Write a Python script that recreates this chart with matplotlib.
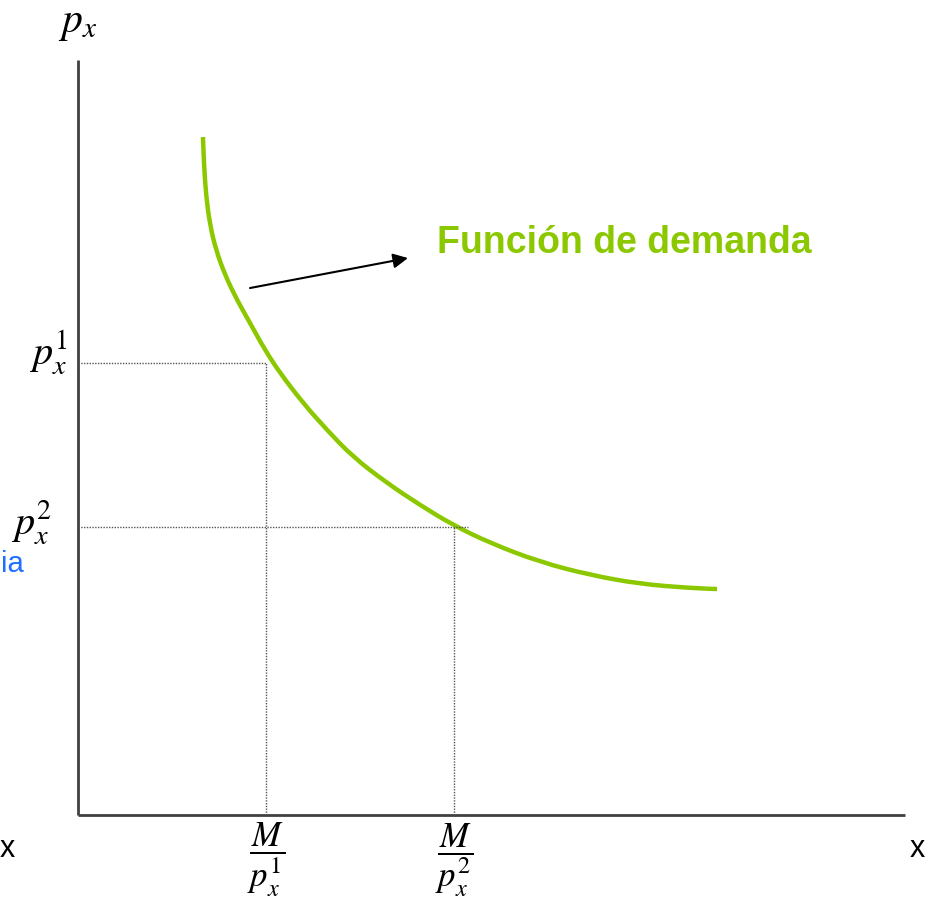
import matplotlib.pyplot as plt
from matplotlib.path import Path
from matplotlib.patches import PathPatch

plt.rcParams['mathtext.fontset'] = 'stix'

# demand curve (x = quantity, y = price)
curve_x = [1.511, 1.524, 1.548, 1.596, 1.669, 1.778, 1.923, 2.080, 2.261, 2.443, 2.721,
           3.011, 3.325, 3.736, 4.135, 4.534, 4.982, 5.586, 6.191, 6.796, 7.400, 7.727]
curve_y = [8.980, 8.609, 8.212, 7.815, 7.483, 7.152, 6.821, 6.517, 6.159, 5.854, 5.457,
           5.099, 4.742, 4.397, 4.106, 3.841, 3.603, 3.351, 3.179, 3.060, 3.007, 2.993]

# the two price levels and the matching quantities
prices = [5.99, 3.815]
quantities = [2.273, 4.55]
price_labels = [r'$p_x^1$', r'$p_x^2$']
qty_labels = [r'$\dfrac{M}{p_x^1}$', r'$\dfrac{M}{p_x^2}$']

green = '#8cc800'
axis_col = '#404040'
dot_col = '#555555'

fig = plt.figure(figsize=(9.42, 9.09), dpi=100)
ax = fig.add_axes([0, 0, 1, 1])
ax.set_xlim(-0.943, 10.447)
ax.set_ylim(-1.245, 10.795)
ax.axis('off')

# axes of the diagram
ax.plot([0, 0], [0, 10.0], color=axis_col, lw=2, solid_capstyle='butt')
ax.plot([0, 10.0], [0, 0], color=axis_col, lw=2, solid_capstyle='butt')

# guide lines
dots = dict(color=dot_col, lw=1, ls=(0, (1, 1)))
ax.plot([0, quantities[0]], [prices[0]] * 2, **dots)
ax.plot([quantities[0]] * 2, [0, prices[0]], **dots)
ax.plot([0, quantities[1] + 0.16], [prices[1]] * 2, **dots)
ax.plot([quantities[1]] * 2, [0, prices[1]], **dots)

# smooth the read points with quadratic beziers through the midpoints
pts = list(zip(curve_x, curve_y))
verts = [pts[0]]
codes = [Path.MOVETO]
mid = lambda a, b: ((a[0] + b[0]) / 2, (a[1] + b[1]) / 2)
verts.append(mid(pts[0], pts[1]))
codes.append(Path.LINETO)
for i in range(1, len(pts) - 1):
    verts += [pts[i], mid(pts[i], pts[i + 1])]
    codes += [Path.CURVE3, Path.CURVE3]
verts.append(pts[-1])
codes.append(Path.LINETO)
ax.add_patch(PathPatch(Path(verts, codes), fill=False, edgecolor=green, lw=3.2,
                       capstyle='butt'))

# arrow + label
ax.annotate('', xy=(3.99, 7.377), xytext=(2.08, 6.98),
            arrowprops=dict(arrowstyle='-|>', color='black', lw=1.5,
                            mutation_scale=22, shrinkA=0, shrinkB=0))
ax.text(4.341, 7.576, 'Función de demanda', color=green, fontsize=27,
        fontweight='bold', family='Liberation Sans', va='center', ha='left')

# labels
ax.text(0.0, 10.5, r'$p_x$', fontsize=30, ha='center', va='center')
label_right = [-0.12, -0.31]
label_y = [6.13, 3.87]
for xr, yl, lab in zip(label_right, label_y, price_labels):
    ax.text(xr, yl, lab, fontsize=29, ha='right', va='center')
for q, lab in zip(quantities, qty_labels):
    ax.text(q, -0.6, lab, fontsize=25, ha='center', va='center')

ax.text(-0.93, 3.32, 'ia', fontsize=21, color='#1e6fff', family='Liberation Sans',
        ha='left', va='center')
ax.text(-0.85, -0.45, 'x', fontsize=22, family='Liberation Sans', ha='center', va='center')
ax.text(10.15, -0.45, 'x', fontsize=22, family='Liberation Sans', ha='center', va='center')

fig.savefig('out.png', dpi=100)
